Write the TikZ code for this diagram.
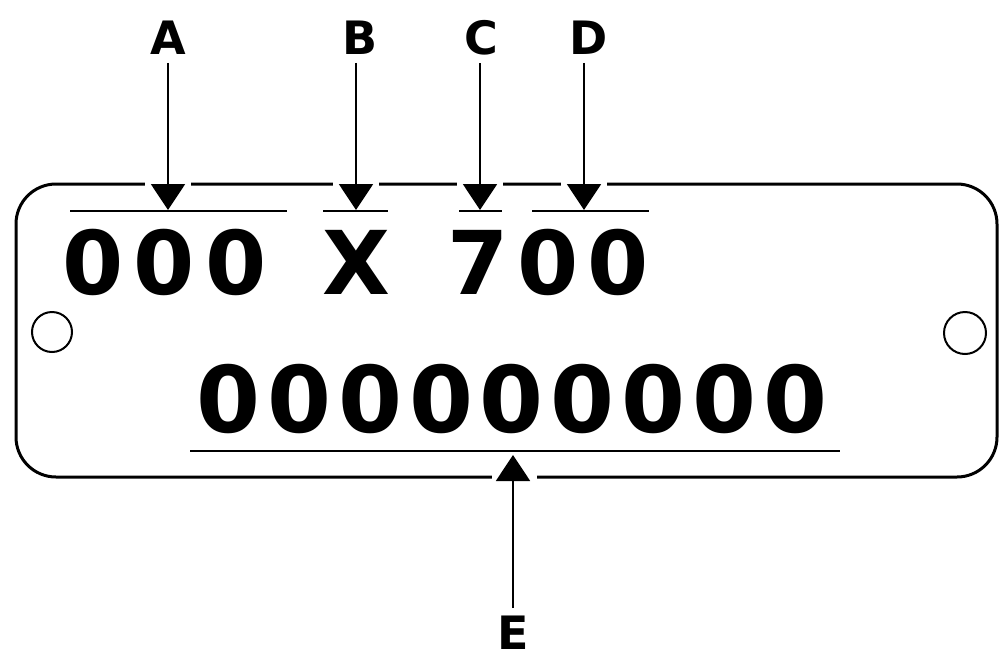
\documentclass[tikz,border=0pt]{standalone}
\usepackage{fontspec}
\usetikzlibrary{arrows.meta,calc}
\newfontfamily\platefont{DejaVu Sans}
\newlength\pitchw
\def\spcloop#1{\ifx#1\relax\else\makebox[\pitchw]{#1}\expandafter\spcloop\fi}
\newcommand\spaced[2]{\setlength\pitchw{#1}\spcloop#2\relax}
\tikzset{
  plate/.style={line width=3pt, rounded corners=40pt},
  hole/.style={line width=2pt},
  uline/.style={line width=2pt},
  bigone/.style={inner sep=0pt, anchor=base, font=\platefont\bfseries\fontsize{88}{88}\selectfont},
  bigtwo/.style={inner sep=0pt, anchor=base, font=\platefont\bfseries\fontsize{92}{92}\selectfont},
  lbl/.style={inner sep=0pt, outer sep=0pt, font=\platefont\bfseries\fontsize{46}{46}\selectfont},
  pointer/.style={line width=2pt, shorten <=8pt, -{Triangle[width=34pt,length=26pt]}},
  gap/.style={fill=white}
}
\begin{document}
\begin{tikzpicture}[x=1pt,y=-1pt]
\useasboundingbox (0,0) rectangle (999,662);
% plate
\draw[plate] (16,184) rectangle (997,477);
\draw[hole] (52,332) circle[radius=20pt];
\draw[hole] (965,333) circle[radius=21pt];
% texts
\node[bigone] (t1) at (164.5,294) {\spaced{71.5pt}{000}};
\node[bigone] (t2) at (356.5,294) {X};
\node[bigone] (t3) at (548,294) {\spaced{70pt}{700}};
\node[bigtwo] (t4) at (512,432) {\spaced{70.75pt}{000000000}};
% underlines
\draw[uline] (70,211) -- (287,211);
\draw[uline] (323,211) -- (388,211);
\draw[uline] (459,211) -- (502,211);
\draw[uline] (532,211) -- (649,211);
\draw[uline] (190,451) -- (840,451);
% arrow tips
\coordinate (pa) at (168,210);
\coordinate (pb) at (356,210);
\coordinate (pc) at (480,210);
\coordinate (pd) at (584,210);
\coordinate (pe) at (513,455);
% gaps in plate edge
\foreach \p in {pa,pb,pc,pd}{
  \fill[gap] ($(\p)+(-23,-30)$) rectangle ($(\p)+(23,-22)$);
}
\fill[gap] ($(pe)+(-21,19)$) rectangle ($(pe)+(24,27)$);
% labels
\node[lbl] (A) at (168,38) {A};
\node[lbl] (B) at (360,38) {B};
\node[lbl] (C) at (481,38) {C};
\node[lbl] (D) at (589,38) {D};
\node[lbl] (E) at (513,633) {E};
% connectors
\draw[pointer] (A.south) -- (pa);
\draw[pointer] (B.south -| pb) -- (pb);
\draw[pointer] (C.south -| pc) -- (pc);
\draw[pointer] (D.south -| pd) -- (pd);
\draw[pointer] (E.north) -- (pe);
\end{tikzpicture}
\end{document}
